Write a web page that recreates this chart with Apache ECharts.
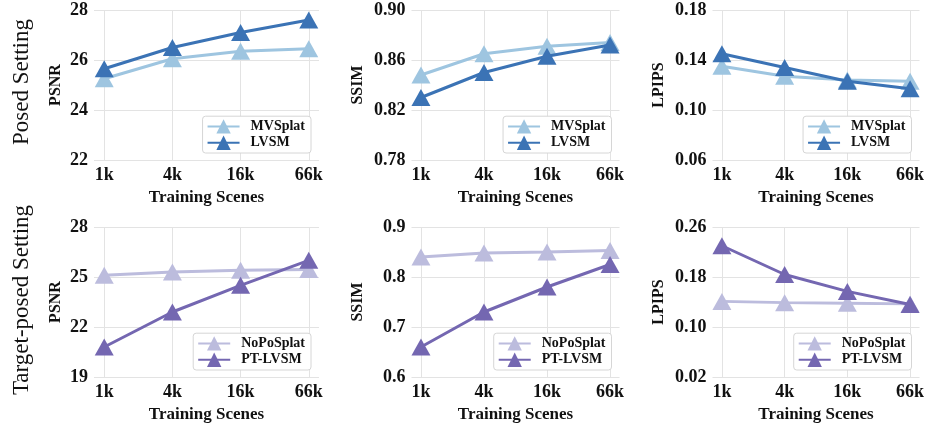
<!DOCTYPE html>
<html>
<head>
<meta charset="utf-8">
<script src="https://cdn.jsdelivr.net/npm/echarts@6/dist/echarts.min.js"></script>
<style>html,body{margin:0;padding:0;background:#fff;}#c{width:928px;height:427px;}</style>
</head>
<body>
<div id="c"></div>
<script>
// ---- data ----
const categories = ['1k', '4k', '16k', '66k'];

// Posed setting
const psnrMVSplat = [25.25, 26.05, 26.35, 26.45];
const psnrLVSM = [25.65, 26.5, 27.1, 27.6];
const ssimMVSplat = [0.848, 0.865, 0.871, 0.874];
const ssimLVSM = [0.830, 0.850, 0.863, 0.872];
const lpipsMVSplat = [0.135, 0.127, 0.124, 0.123];
const lpipsLVSM = [0.145, 0.134, 0.123, 0.117];

// Target-posed setting
const psnrNoPoSplat = [25.1, 25.3, 25.4, 25.45];
const psnrPTLVSM = [20.8, 22.9, 24.5, 26.0];
const ssimNoPoSplat = [0.840, 0.848, 0.850, 0.853];
const ssimPTLVSM = [0.660, 0.730, 0.780, 0.825];
const lpipsNoPoSplat = [0.141, 0.139, 0.138, 0.137];
const lpipsPTLVSM = [0.230, 0.184, 0.157, 0.136];

// axis ranges / ticks
const yPSNRTop = {min: 22, max: 28, interval: 2};
const ySSIMTop = {min: 0.78, max: 0.90, interval: 0.04};
const yLPIPSTop = {min: 0.06, max: 0.18, interval: 0.04};
const yPSNRBot = {min: 19, max: 28, interval: 3};
const ySSIMBot = {min: 0.6, max: 0.9, interval: 0.1};
const yLPIPSBot = {min: 0.02, max: 0.26, interval: 0.08};

const legendTop = ['MVSplat', 'LVSM'];
const legendBot = ['NoPoSplat', 'PT-LVSM'];
const rowLabels = ['Posed Setting', 'Target-posed Setting'];

// ---- styles ----
const FONT = "'Liberation Serif', 'Times New Roman', serif";
const C_LIGHT_BLUE = '#9ec5e0';
const C_DARK_BLUE = '#3b73b5';
const C_LIGHT_PURPLE = '#bcbcdd';
const C_DARK_PURPLE = '#7467b1';

const cols = [{left: 94, width: 225}, {left: 411.5, width: 208}, {left: 712.5, width: 207}];
const rows = [{top: 10, height: 150}, {top: 227, height: 150}];
const yNames = ['PSNR', 'SSIM', 'LPIPS'];
const yNameGaps = [30, 46, 46];
const yDefs = [[yPSNRTop, ySSIMTop, yLPIPSTop], [yPSNRBot, ySSIMBot, yLPIPSBot]];
const decimals = [[0, 2, 2], [0, 1, 2]];

const seriesData = [
  [[psnrMVSplat, psnrLVSM], [ssimMVSplat, ssimLVSM], [lpipsMVSplat, lpipsLVSM]],
  [[psnrNoPoSplat, psnrPTLVSM], [ssimNoPoSplat, ssimPTLVSM], [lpipsNoPoSplat, lpipsPTLVSM]]
];
const names = [legendTop, legendBot];
const colors = [[C_LIGHT_BLUE, C_DARK_BLUE], [C_LIGHT_PURPLE, C_DARK_PURPLE]];

const grid = [], xAxis = [], yAxis = [], series = [], legend = [];
const tickIdx = categories.map((c, i) => i);

for (let r = 0; r < 2; r++) {
  for (let c = 0; c < 3; c++) {
    const gi = r * 3 + c;
    grid.push({left: cols[c].left, top: rows[r].top, width: cols[c].width, height: rows[r].height, containLabel: false});
    xAxis.push({
      type: 'value', gridIndex: gi, min: -0.15, max: 3.15,
      name: 'Training Scenes', nameLocation: 'middle', nameGap: 29,
      nameTextStyle: {fontFamily: FONT, fontWeight: 'bold', fontSize: 17, color: '#111'},
      axisLine: {show: false},
      axisTick: {show: false, customValues: tickIdx},
      axisLabel: {customValues: tickIdx, formatter: v => categories[Math.round(v)], fontFamily: FONT, fontWeight: 'bold', fontSize: 18, color: '#111', margin: 6},
      splitLine: {show: true, lineStyle: {color: '#e3e3e3', width: 1}}
    });
    const yd = yDefs[r][c];
    const dec = decimals[r][c];
    yAxis.push({
      type: 'value', gridIndex: gi, min: yd.min, max: yd.max, interval: yd.interval,
      name: yNames[c], nameLocation: 'middle', nameGap: yNameGaps[c],
      nameTextStyle: {fontFamily: FONT, fontWeight: 'bold', fontSize: 16, color: '#111'},
      axisLine: {show: false}, axisTick: {show: false},
      axisLabel: {formatter: v => v.toFixed(dec), fontFamily: FONT, fontWeight: 'bold', fontSize: 18, color: '#111', margin: 6},
      splitLine: {show: true, lineStyle: {color: '#e3e3e3', width: 1}}
    });
    for (let s = 0; s < 2; s++) {
      series.push({
        type: 'line', name: names[r][s], xAxisIndex: gi, yAxisIndex: gi,
        data: seriesData[r][c][s].map((v, i) => [i, v]),
        symbol: 'triangle', symbolSize: [19, 17],
        lineStyle: {color: colors[r][s], width: 3},
        itemStyle: {color: colors[r][s]},
        z: 2 + s, animation: false
      });
    }
    legend.push({
      data: names[r], orient: 'vertical',
      right: 928 - (cols[c].left + cols[c].width) + 8,
      bottom: 427 - (rows[r].top + rows[r].height) + 7,
      backgroundColor: '#fff', borderColor: '#d6d6d6', borderWidth: 1, borderRadius: 3,
      padding: [3, 6, 3, 4], itemGap: 2, itemWidth: 32, itemHeight: 18,
      textStyle: {fontFamily: FONT, fontWeight: 'bold', fontSize: 14, color: '#111', padding: [0, 0, 0, 6]},
      selectedMode: false
    });
  }
}

const chart = echarts.init(document.getElementById('c'), null, {renderer: 'canvas'});
chart.setOption({
  animation: false,
  backgroundColor: '#fff',
  grid, xAxis, yAxis, series, legend,
  graphic: [
    {type: 'text', x: 22, y: 82, rotation: Math.PI / 2,
     style: {text: rowLabels[0], fontFamily: FONT, fontSize: 23, fill: '#111', align: 'center', verticalAlign: 'middle'}},
    {type: 'text', x: 22, y: 300, rotation: Math.PI / 2,
     style: {text: rowLabels[1], fontFamily: FONT, fontSize: 23, fill: '#111', align: 'center', verticalAlign: 'middle'}}
  ]
});
</script>
</body>
</html>
